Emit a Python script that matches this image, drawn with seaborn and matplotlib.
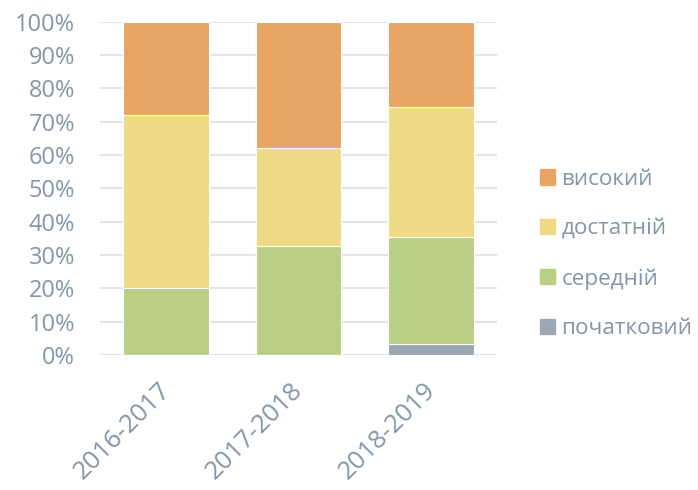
import matplotlib
matplotlib.use("Agg")
import matplotlib.pyplot as plt
import matplotlib.patches as mpatches
import matplotlib.transforms as mtransforms
import seaborn as sns
import pandas as pd
import numpy as np

years = ["2016-2017", "2017-2018", "2018-2019"]
pochatkovyi = [0.0, 0.0, 3.2]
serednii = [20.0, 32.8, 32.2]
dostatnii = [52.0, 29.2, 38.9]
vysokyi = [28.0, 38.0, 25.7]

series_names = ["початковий", "середній", "достатній", "високий"]
series_vals = [pochatkovyi, serednii, dostatnii, vysokyi]
colors = ["#9BA9B5", "#B9D084", "#EEDA84", "#E8A465"]

sns.set_theme(style="white")
plt.rcParams['font.family'] = ['Open Sans', 'DejaVu Sans']
text_color = "#8496A8"

fig = plt.figure(figsize=(6.98, 4.9), dpi=100)
ax = fig.add_axes([100/698, 1-355/490, 397/698, 333.3/490])

cum = np.cumsum(np.array(series_vals), axis=0)
df_rows = []
for i, name in enumerate(series_names):
    for j, y in enumerate(years):
        df_rows.append({"year": y, "series": name, "top": cum[i, j]})
df = pd.DataFrame(df_rows)

# draw from top-most (largest cumulative) down
for i in reversed(range(len(series_names))):
    sub = df[df["series"] == series_names[i]]
    sns.barplot(data=sub, x="year", y="top", color=colors[i], width=0.645,
                ax=ax, edgecolor="white", linewidth=0.8, saturation=1, zorder=3)

ax.set_ylim(0, 100)
ax.set_xlim(-0.5, 2.5)
ax.set_yticks(np.arange(0, 101, 10))
ax.set_yticklabels([f"{v}%" for v in range(0, 101, 10)])
ax.yaxis.grid(True, color="#E1E5EA", linewidth=1.5, zorder=0)
ax.set_axisbelow(True)
for s in ax.spines.values():
    s.set_visible(False)
ax.set_xlabel("")
ax.set_ylabel("")
ax.tick_params(axis="y", length=0, pad=18, labelsize=17, labelcolor=text_color)
ax.tick_params(axis="x", length=0, pad=6, labelsize=18.5, labelcolor=text_color)
offset = mtransforms.ScaledTranslation(-8/100, -14/100, fig.dpi_scale_trans)
for lbl in ax.get_xticklabels():
    lbl.set_rotation(45)
    lbl.set_ha("right")
    lbl.set_rotation_mode("anchor")
    lbl.set_transform(lbl.get_transform() + offset)

handles = [mpatches.Patch(color=colors[i], label=series_names[i]) for i in reversed(range(4))]
leg = fig.legend(handles=handles, loc="center left", bbox_to_anchor=(540/698, 1-254/490),
                 frameon=False, fontsize=16.2, labelspacing=1.27, handlelength=0.66,
                 handleheight=0.66, handletextpad=0.3, borderpad=0, borderaxespad=0,
                 labelcolor=text_color)

fig.savefig("out.png", dpi=100)
